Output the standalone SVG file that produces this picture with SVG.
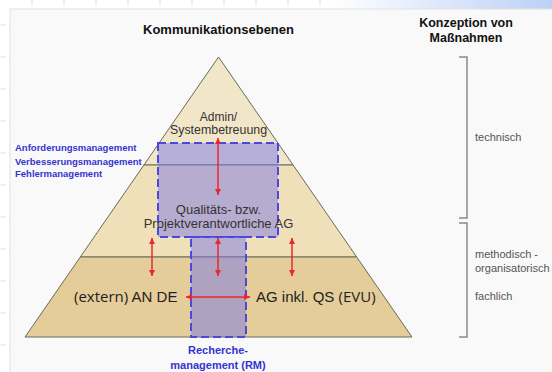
<svg xmlns="http://www.w3.org/2000/svg" width="552" height="372" viewBox="0 0 552 372">
<defs>
<linearGradient id="topg" x1="0" y1="0" x2="1" y2="0">
<stop offset="0" stop-color="#ffffff"/>
<stop offset="0.6" stop-color="#ffffff"/>
<stop offset="1" stop-color="#bcd0f6"/>
</linearGradient>
<marker id="ah" viewBox="0 0 8 8" refX="8" refY="4" markerWidth="6" markerHeight="6" markerUnits="userSpaceOnUse" orient="auto-start-reverse">
<path d="M0,0 L8,4 L0,8 z" fill="#e8282c"/>
</marker>
<style>
.grid{stroke:#dbe4f4;stroke-width:1;stroke-dasharray:6 3}
.lay{stroke:#6a6a5a;stroke-width:1}
.sel{fill:#7a78e6;fill-opacity:0.5;stroke:#4a48e0;stroke-width:2;stroke-dasharray:8 4}
.arr{stroke:#e8282c;stroke-width:1.5;fill:none;marker-start:url(#ah);marker-end:url(#ah)}
.brk{stroke:#8a8a8a;stroke-width:1.5;fill:none}
.h{font-family:"Liberation Sans",Arial,sans-serif;font-weight:bold;fill:#111;text-anchor:middle}
.bl{font-family:"Liberation Sans",Arial,sans-serif;font-weight:bold;fill:#3434d0}
.t{font-family:"Liberation Sans",Arial,sans-serif;fill:#333;text-anchor:middle}
.g{font-family:"Liberation Sans",Arial,sans-serif;fill:#555;font-size:11px}
.big{font-family:"Liberation Sans",Arial,sans-serif;fill:#222;font-size:15px}
.os{font-family:"Open Sans","Noto Sans",sans-serif}
</style>
</defs>
<g id="background">
<rect x="0" y="0" width="552" height="372" fill="#ffffff"/>
<rect x="0" y="0" width="552" height="10" fill="url(#topg)"/>
<line class="grid" x1="32" y1="0" x2="32" y2="9"/>
<line class="grid" x1="64" y1="0" x2="64" y2="9"/>
<line class="grid" x1="96" y1="0" x2="96" y2="9"/>
<line class="grid" x1="128" y1="0" x2="128" y2="9"/>
<line class="grid" x1="160" y1="0" x2="160" y2="9"/>
<line class="grid" x1="192" y1="0" x2="192" y2="9"/>
<line class="grid" x1="224" y1="0" x2="224" y2="9"/>
<line class="grid" x1="256" y1="0" x2="256" y2="9"/>
<line class="grid" x1="288" y1="0" x2="288" y2="9"/>
<line class="grid" x1="320" y1="0" x2="320" y2="9"/>
<line class="grid" x1="0" y1="25" x2="10" y2="25"/>
<line class="grid" x1="0" y1="57" x2="10" y2="57"/>
<line class="grid" x1="0" y1="89" x2="10" y2="89"/>
<line class="grid" x1="0" y1="121" x2="10" y2="121"/>
<line class="grid" x1="0" y1="153" x2="10" y2="153"/>
<line class="grid" x1="0" y1="185" x2="10" y2="185"/>
<line class="grid" x1="0" y1="217" x2="10" y2="217"/>
<line class="grid" x1="0" y1="249" x2="10" y2="249"/>
<line class="grid" x1="0" y1="281" x2="10" y2="281"/>
<line class="grid" x1="0" y1="313" x2="10" y2="313"/>
<line class="grid" x1="0" y1="345" x2="10" y2="345"/>
<rect x="10" y="9" width="550" height="370" fill="#f9f9f9" stroke="#e2e2e2" stroke-width="1"/>
</g>
<g id="pyramid">
<polygon id="layer-top" class="lay" points="218.5,57 293.1,165 143.9,165" fill="#f2e6c8"/>
<polygon id="layer-mid" class="lay" points="143.9,165 293.1,165 356.7,257 80.3,257" fill="#f0e0ba"/>
<polygon id="layer-bottom" class="lay" points="80.3,257 356.7,257 412,337 25,337" fill="#e5cd9a"/>
</g>
<g id="selection">
<rect id="sel-qa" class="sel" x="158" y="143" width="120" height="94"/>
<rect id="sel-rm" class="sel" x="191" y="237" width="55" height="100"/>
</g>
<g id="connectors">
<line class="arr" x1="218" y1="138" x2="218" y2="195"/>
<line class="arr" x1="152" y1="238" x2="152" y2="276"/>
<line class="arr" x1="218" y1="238" x2="218" y2="276"/>
<line class="arr" x1="292" y1="238" x2="292" y2="276"/>
<line class="arr" x1="186" y1="297" x2="250" y2="297"/>
</g>
<g id="brackets">
<path class="brk" d="M459,57 H467 V218 H459"/>
<path class="brk" d="M459,223 H467 V337 H459"/>
</g>
<g id="titles">
<text class="h" x="218.5" y="34" font-size="13">Kommunikationsebenen</text>
<text class="h" x="466" y="27" font-size="12.5">Konzeption von</text>
<text class="h" x="466" y="42" font-size="12.5">Maßnahmen</text>
</g>
<g id="node-admin">
<text class="t" x="218.5" y="121" font-size="12">Admin/</text>
<text class="t" x="218.5" y="134" font-size="12.4">Systembetreuung</text>
</g>
<g id="node-qa">
<text class="t" x="218.5" y="214" font-size="13">Qualitäts- bzw.</text>
<text class="t" x="218.5" y="228" font-size="13">Projektverantwortliche AG</text>
</g>
<g id="node-an">
<text class="big" x="74" y="302"><tspan class="os">(extern)</tspan> AN DE</text>
</g>
<g id="node-ag">
<text class="big" x="256" y="302">AG inkl. QS <tspan class="os">(EVU)</tspan></text>
</g>
<g id="left-labels">
<text class="bl" x="15" y="151" font-size="9.5">Anforderungsmanagement</text>
<text class="bl" x="15" y="165" font-size="9.5">Verbesserungsmanagement</text>
<text class="bl" x="15" y="177" font-size="9.5">Fehlermanagement</text>
</g>
<g id="rm-label">
<text class="bl" x="218" y="354" font-size="11" text-anchor="middle">Recherche-</text>
<text class="bl" x="218" y="369" font-size="11" text-anchor="middle">management (RM)</text>
</g>
<g id="right-labels">
<text class="g" x="475" y="141">technisch</text>
<text class="g" x="475" y="258">methodisch -</text>
<text class="g" x="475" y="272">organisatorisch</text>
<text class="g" x="475" y="300">fachlich</text>
</g>
</svg>
